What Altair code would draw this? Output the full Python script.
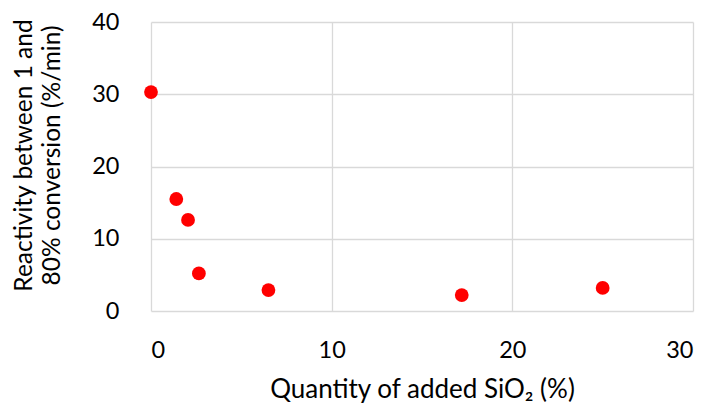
import altair as alt
import pandas as pd

sio2 = [0.0, 1.4, 2.05, 2.65, 6.5, 17.2, 25.0]
reactivity = [30.3, 15.5, 12.6, 5.2, 2.9, 2.2, 3.2]

df = pd.DataFrame({"sio2": sio2, "reactivity": reactivity})

font = "Lato"
chart = alt.Chart(df).mark_circle(color="#ff0000", opacity=1, size=190).encode(
    x=alt.X("sio2:Q", scale=alt.Scale(domain=[0, 30], nice=False),
            axis=alt.Axis(values=[0, 10, 20, 30], title="Quantity of added SiO₂ (%)",
                          grid=True, gridColor="#d9d9d9", gridWidth=1.3, domain=False, ticks=False,
                          labelFontSize=23.5, labelPadding=27, titleFontSize=26, titlePadding=15,
                          titleFontWeight="normal", labelColor="#000", titleColor="#000",
                          labelFont=font, titleFont=font)),
    y=alt.Y("reactivity:Q", scale=alt.Scale(domain=[0, 40], nice=False),
            axis=alt.Axis(values=[0, 10, 20, 30, 40], title=["Reactivity between 1 and", "80% conversion (%/min)"],
                          grid=True, gridColor="#d9d9d9", gridWidth=1.3, domain=False, ticks=False,
                          labelFontSize=23.5, labelPadding=32, titleFontSize=24.5, titlePadding=27,
                          titleY=133, titleLineHeight=28, titleFontWeight="normal",
                          labelColor="#000", titleColor="#000", labelFont=font, titleFont=font)),
).properties(
    width=542, height=289,
    autosize=alt.AutoSizeParams(type="none"),
    padding={"left": 143, "top": 14, "right": 9, "bottom": 100},
).configure_view(stroke=None)

chart.save("out.html", embed_options={"renderer": "svg", "actions": False})
